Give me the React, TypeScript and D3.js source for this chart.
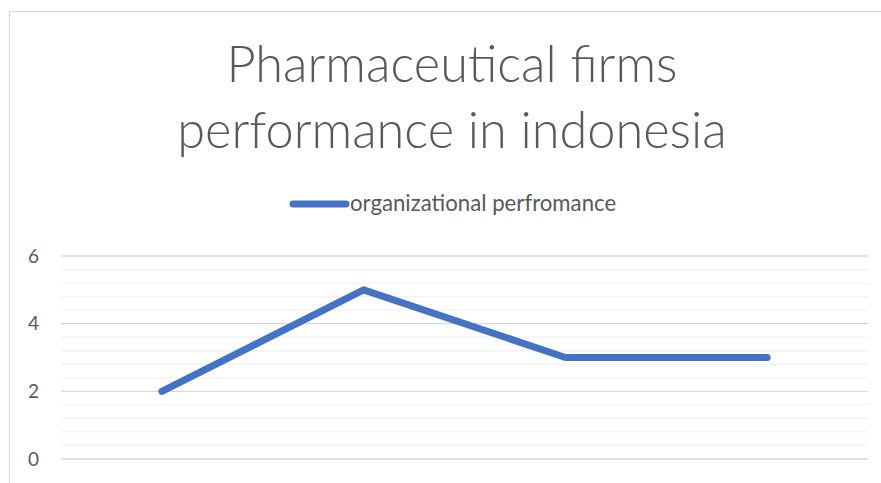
import React from "react";
import * as d3 from "d3";

// chart values
const categories = ["1", "2", "3", "4"];
const performance = [2, 5, 3, 3];
const yTicks = [0, 2, 4, 6];
const titleLines = ["Pharmaceutical firms", "performance in indonesia"];
const seriesName = "organizational perfromance";

const W = 881;
const H = 483;
const margin = { top: 256, right: 13, bottom: 24, left: 61 };

const App = () => {
  const plotW = W - margin.left - margin.right;
  const plotH = H - margin.top - margin.bottom;

  const x = d3.scaleBand().domain(categories).range([0, plotW]).padding(0);
  const y = d3.scaleLinear().domain([0, 6]).range([plotH, 0]);

  const minorTicks = d3.range(0, 6.001, 0.4).filter((v) => !yTicks.some((t) => Math.abs(t - v) < 1e-6));

  const line = d3
    .line<number>()
    .x((_, i) => (x(categories[i]) as number) + x.bandwidth() / 2)
    .y((d) => y(d));

  const font = "Lato, 'Open Sans', sans-serif";

  return (
    <div style={{ position: "fixed", left: 0, top: 0 }}>
      <svg width={W} height={H} style={{ display: "block", background: "#fff" }}>
        {/* chart area border */}
        <rect x={9.5} y={11.5} width={W + 20} height={H + 20} fill="none" stroke="#d9d9d9" strokeWidth={1} />

        {titleLines.map((t, i) => (
          <text
            key={t}
            x={452}
            y={82 + i * 66}
            textAnchor="middle"
            fontFamily={font}
            fontWeight={300}
            fontSize={50.5}
            fill="#595959"
          >
            {t}
          </text>
        ))}

        {/* legend */}
        <line x1={293} x2={346} y1={204} y2={204} stroke="#4472C4" strokeWidth={7} strokeLinecap="round" />
        <text x={350} y={211} fontFamily={font} fontSize={22.2} fill="#595959">
          {seriesName}
        </text>

        <g transform={`translate(${margin.left},${margin.top})`}>
          {minorTicks.map((v) => (
            <line key={"m" + v} x1={0} x2={plotW} y1={y(v)} y2={y(v)} stroke="#f2f2f2" strokeWidth={1.3} />
          ))}
          {yTicks.map((v) => (
            <g key={v}>
              <line x1={0} x2={plotW} y1={y(v)} y2={y(v)} stroke="#d9d9d9" strokeWidth={1.3} />
              <text x={-22} y={y(v) + 6.5} textAnchor="end" fontFamily={font} fontSize={19} fill="#595959">
                {v}
              </text>
            </g>
          ))}
          <path
            d={line(performance) || ""}
            fill="none"
            stroke="#4472C4"
            strokeWidth={7}
            strokeLinecap="round"
            strokeLinejoin="round"
          />
        </g>
      </svg>
    </div>
  );
};

export default App;
